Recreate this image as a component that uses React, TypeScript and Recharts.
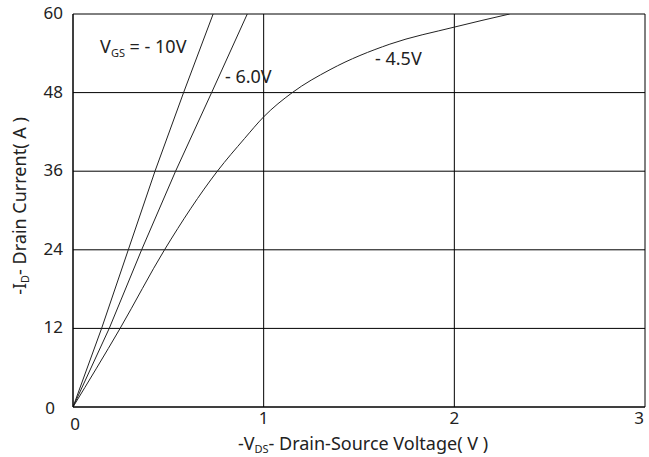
import { CartesianGrid, Line, LineChart, ReferenceDot, XAxis, YAxis } from 'recharts';

// -VDS (V) vs -ID (A) for each gate voltage
const vdsAt10V = [0, 0.15, 0.29, 0.43, 0.58, 0.735];
const idAt10V = [0, 12, 24, 36, 48, 60];
const vdsAt6V = [0, 0.19, 0.36, 0.538, 0.727, 0.914];
const idAt6V = [0, 12, 24, 36, 48, 60];
const vdsAt45V = [0, 0.247, 0.48, 0.757, 0.9, 1.0, 1.15, 1.348, 1.662, 2.0, 2.29];
const idAt45V = [0, 12, 24, 36, 41, 44.3, 48, 51.5, 55.4, 58, 60];

const xTicks = [0, 1, 2, 3];
const yTicks = [0, 12, 24, 36, 48, 60];

const FONT = '"Noto Sans", sans-serif';
const INK = '#222';

function toPoints(xs: number[], ys: number[]) {
  return xs.map((v, i) => ({ vds: v, id: ys[i] }));
}

function XTick({ x, payload }: any) {
  const v = payload.value;
  const baseline = v === 0 ? 430 : 424;
  const shift = v === 0 ? 2 : v === 3 ? -6 : 0;
  return (
    <text x={x + shift} y={baseline} textAnchor="middle" fontSize={17} fontFamily={FONT} fill={INK}>
      {v}
    </text>
  );
}

function YTick({ y, payload }: any) {
  const v = payload.value;
  return (
    <text x={v === 0 ? 55 : 63} y={y + (v === 0 ? 7 : 5)} textAnchor="end" fontSize={17} fontFamily={FONT} fill={INK}>
      {v}
    </text>
  );
}

function curveLabel(main: string, sub?: string, rest?: string) {
  return ({ viewBox }: any) => {
    const cx = viewBox.x + (viewBox.width ?? 0) / 2;
    const cy = viewBox.y + (viewBox.height ?? 0) / 2;
    return (
      <text x={cx} y={cy} fontSize={18} fontFamily={FONT} fill={INK}>
        {main}
        {sub && <tspan fontSize={11} dy={4}>{sub}</tspan>}
        {rest && <tspan dy={sub ? -4 : 0}>{rest}</tspan>}
      </text>
    );
  };
}

export default function App() {
  return (
    <div style={{ position: 'absolute', left: 0, top: 0, background: '#fff' }}>
      <LineChart width={649} height={457} margin={{ top: 14, right: 4, bottom: 0, left: 0 }}>
        <CartesianGrid stroke="#000" strokeWidth={1} />
        <XAxis
          type="number"
          dataKey="vds"
          domain={[0, 3]}
          ticks={xTicks}
          allowDataOverflow
          height={50}
          tickLine={false}
          axisLine={{ stroke: '#000' }}
          tick={<XTick />}
          label={() => (
            <text x={363} y={450} textAnchor="middle" fontSize={18} fontFamily={FONT} fill={INK}>
              -V<tspan fontSize={11} dy={3}>DS</tspan>
              <tspan dy={-3}>- Drain-Source Voltage( V )</tspan>
            </text>
          )}
        />
        <YAxis
          type="number"
          dataKey="id"
          domain={[0, 60]}
          ticks={yTicks}
          allowDataOverflow
          width={73}
          tickLine={false}
          axisLine={{ stroke: '#000' }}
          tick={<YTick />}
          label={() => (
            <text x={26} y={206} transform="rotate(-90 26 206)" textAnchor="middle" fontSize={18} fontFamily={FONT} fill={INK}>
              -I<tspan fontSize={11} dy={3}>D</tspan>
              <tspan dy={-3}>- Drain Current( A )</tspan>
            </text>
          )}
        />
        <Line data={toPoints(vdsAt10V, idAt10V)} dataKey="id" type="linear" stroke={INK} strokeWidth={1} dot={false} isAnimationActive={false} />
        <Line data={toPoints(vdsAt6V, idAt6V)} dataKey="id" type="linear" stroke={INK} strokeWidth={1} dot={false} isAnimationActive={false} />
        <Line data={toPoints(vdsAt45V, idAt45V)} dataKey="id" type="monotone" stroke={INK} strokeWidth={1} dot={false} isAnimationActive={false} />
        <ReferenceDot x={0.142} y={54.0} r={0} fill="none" stroke="none" label={curveLabel('V', 'GS', ' = - 10V')} />
        <ReferenceDot x={0.797} y={49.5} r={0} fill="none" stroke="none" label={curveLabel('- 6.0V')} />
        <ReferenceDot x={1.584} y={52.2} r={0} fill="none" stroke="none" label={curveLabel('- 4.5V')} />
      </LineChart>
    </div>
  );
}
